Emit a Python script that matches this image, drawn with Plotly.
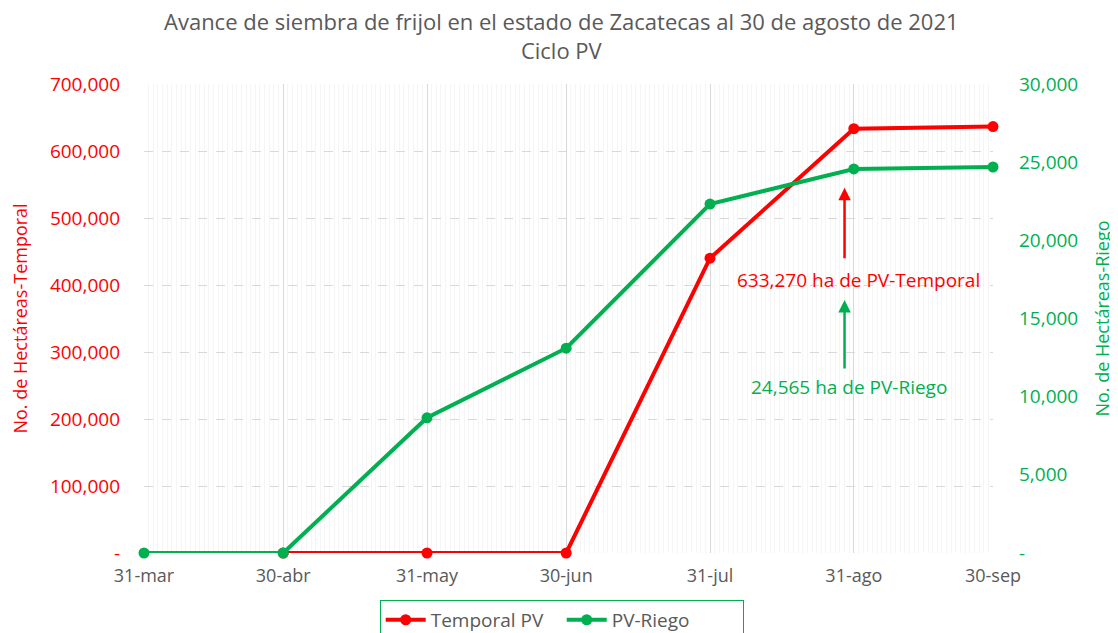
import plotly.graph_objects as go

dates_temporal = ["2021-04-30", "2021-05-31", "2021-06-30", "2021-07-31", "2021-08-31", "2021-09-30"]
temporal_pv = [0, 0, 0, 440000, 633270, 636500]

dates_riego = ["2021-03-31", "2021-04-30", "2021-05-31", "2021-06-30", "2021-07-31", "2021-08-31", "2021-09-30"]
pv_riego = [0, 0, 8650, 13100, 22320, 24565, 24690]

x_tickvals = ["2021-03-31", "2021-04-30", "2021-05-31", "2021-06-30", "2021-07-31", "2021-08-31", "2021-09-30"]
x_ticktext = ["31-mar", "30-abr", "31-may", "30-jun", "31-jul", "31-ago", "30-sep"]

y1_tickvals = [0, 100000, 200000, 300000, 400000, 500000, 600000, 700000]
y1_ticktext = ["-", "100,000", "200,000", "300,000", "400,000", "500,000", "600,000", "700,000"]
y2_tickvals = [0, 5000, 10000, 15000, 20000, 25000, 30000]
y2_ticktext = ["-", "5,000", "10,000", "15,000", "20,000", "25,000", "30,000"]

title_text = "Avance de siembra de frijol en el estado de Zacatecas al 30 de agosto de 2021<br>Ciclo PV"

RED = "#ff0000"
GREEN = "#00b050"
GREY = "#595959"
FONT = "Open Sans"

fig = go.Figure()
fig.add_trace(go.Scatter(
    x=dates_temporal, y=temporal_pv, name="Temporal PV", mode="lines+markers",
    line=dict(color=RED, width=4), marker=dict(color=RED, size=11),
    cliponaxis=False, yaxis="y"))
fig.add_trace(go.Scatter(
    x=dates_riego, y=pv_riego, name="PV-Riego", mode="lines+markers",
    line=dict(color=GREEN, width=4), marker=dict(color=GREEN, size=11),
    cliponaxis=False, yaxis="y2"))

fig.update_layout(
    width=1110, height=625,
    margin=dict(l=136, r=125, t=76, b=80, autoexpand=False),
    paper_bgcolor="white", plot_bgcolor="white",
    font=dict(family=FONT, color=GREY, size=18),
    xaxis=dict(
        type="date", range=["2021-03-31", "2021-09-30"], automargin=False,
        tickmode="array", tickvals=x_tickvals, ticktext=x_ticktext,
        showgrid=True, gridcolor="#d9d9d9", gridwidth=1,
        minor=dict(dtick=86400000, tick0="2021-03-31", showgrid=True, gridcolor="#f5f5f5", gridwidth=1),
        showline=False, zeroline=False, ticks="",
        tickfont=dict(size=18, color=GREY), ticklabelstandoff=10,
    ),
    yaxis=dict(
        range=[0, 700000], tickmode="array", tickvals=y1_tickvals, ticktext=y1_ticktext,
        automargin=False,
        showgrid=True, gridcolor="#d9d9d9", griddash="dash", zeroline=False,
        tickfont=dict(size=19, color=RED), ticklabelstandoff=23,
        title=dict(text="No. de Hectáreas-Temporal", font=dict(size=18, color=RED), standoff=18),
    ),
    yaxis2=dict(
        range=[0, 30000], overlaying="y", side="right", automargin=False,
        tickmode="array", tickvals=y2_tickvals, ticktext=y2_ticktext,
        showgrid=False, zeroline=False,
        tickfont=dict(size=19, color=GREEN), ticklabelstandoff=25,
        title=dict(text="No. de Hectáreas-Riego", font=dict(size=18, color=GREEN), standoff=19),
    ),
    legend=dict(orientation="h", x=0.492, xanchor="center", y=-0.1, yanchor="top",
                bordercolor=GREEN, borderwidth=1, font=dict(size=19, color=GREY),
                itemwidth=40, entrywidth=126, entrywidthmode="pixels"),
    showlegend=True,
)

# title (two lines)
fig.add_annotation(x=0.492, y=1.104, xref="paper", yref="paper", xanchor="center", yanchor="middle",
                   showarrow=False, text=title_text, font=dict(size=22, color=GREY))

# arrows
fig.add_annotation(x="2021-08-29", y=545000, xref="x", yref="y", ax=0, ay=72,
                   showarrow=True, arrowhead=2, arrowsize=1, arrowwidth=2.5, arrowcolor=RED, text="")
fig.add_annotation(x="2021-08-29", y=377600, xref="x", yref="y", ax=0, ay=70,
                   showarrow=True, arrowhead=2, arrowsize=1, arrowwidth=2.5, arrowcolor=GREEN, text="")
fig.add_annotation(x="2021-09-01", y=408000, xref="x", yref="y", showarrow=False,
                   text="633,270 ha de PV-Temporal", font=dict(size=19, color=RED))
fig.add_annotation(x="2021-08-30", y=248000, xref="x", yref="y", showarrow=False,
                   text="24,565 ha de PV-Riego", font=dict(size=19, color=GREEN))

fig.write_html("out.html")
